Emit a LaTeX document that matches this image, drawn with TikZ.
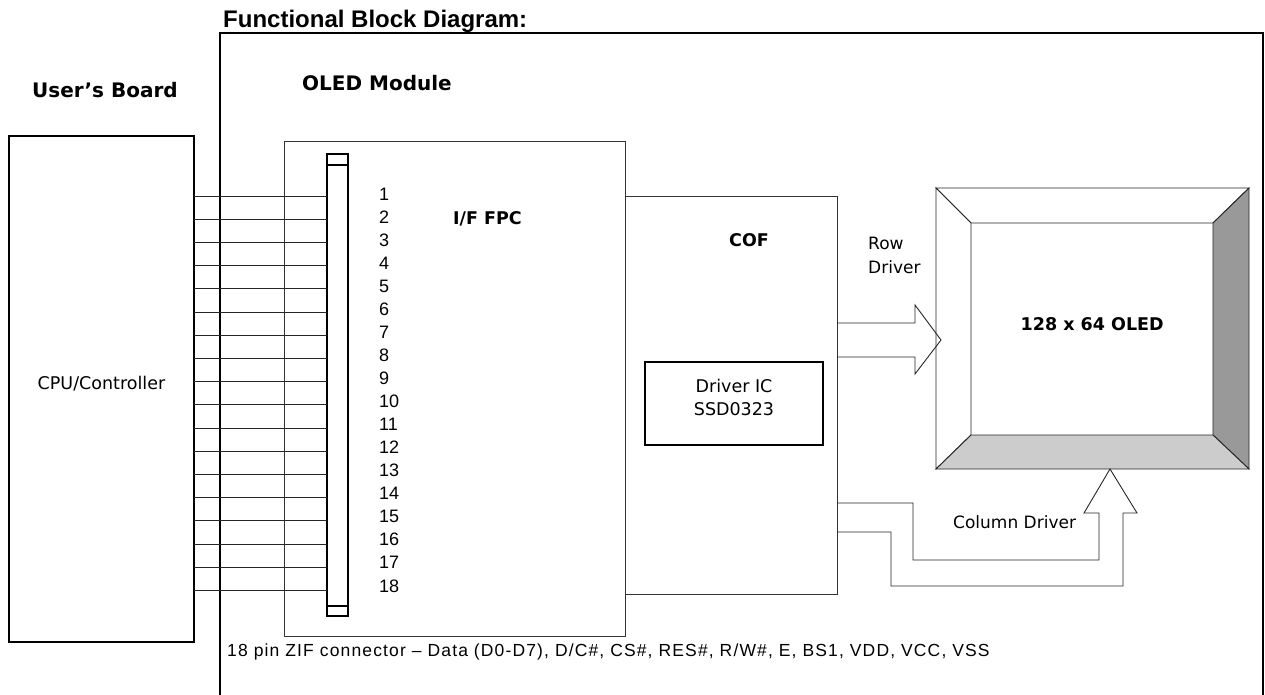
\documentclass[tikz,border=0pt]{standalone}
\usepackage{fontspec}
\setmainfont{Liberation Sans}
\newfontfamily\tahoma{DejaVu Sans}
\newfontfamily\notefont[LetterSpace=6.5]{Liberation Sans}
\usetikzlibrary{positioning,calc}

\begin{document}
\begin{tikzpicture}[
  x=1pt, y=-1pt,
  block/.style={
    draw=black!80,
    line width=0.9pt,
    inner sep=0pt,
    outer sep=0pt,
    anchor=north west
  },
  heavy block/.style={
    block,
    draw=black,
    line width=1.8pt
  },
  wire/.style={
    draw=black!85,
    line width=0.8pt
  },
  bus arrow/.style={
    draw=black!85,
    line width=0.9pt,
    line join=miter
  },
  bevel/.style={
    draw=black!85,
    line width=0.9pt
  },
  plain text/.style={
    inner sep=0pt,
    font=\tahoma\fontsize{17.5}{23}\selectfont
  },
  bold text/.style={
    inner sep=0pt,
    font=\tahoma\bfseries\fontsize{17.5}{23}\selectfont
  },
  pin number/.style={
    inner sep=0pt,
    anchor=base west,
    font=\fontsize{18}{18}\selectfont
  }
]
\useasboundingbox (0,0) rectangle (1265,694);

% headings
\node[inner sep=0pt,anchor=base west,font=\bfseries\fontsize{24}{24}\selectfont]
  (title) at (223,27) {Functional Block Diagram:};
\node[block,draw=black,line width=1.8pt,minimum width=1043pt,minimum height=720pt]
  (module) at (220,33) {};
\node[bold text,anchor=base west,font=\tahoma\bfseries\fontsize{20}{20}\selectfont]
  (board-label) at (32,97) {User’s Board};
\node[bold text,anchor=base west,font=\tahoma\bfseries\fontsize{20}{20}\selectfont]
  (module-label) at (302,90) {OLED Module};

% user's board
\node[heavy block,minimum width=185pt,minimum height=506pt] (cpu) at (9,136) {};
\node[plain text,anchor=base] (cpu-label) at (cpu.center) {CPU/Controller};

% flex cable and connector
\node[block,minimum width=341pt,minimum height=495pt] (fpc) at (284,141) {};
\node[block,minimum width=212pt,minimum height=398pt] (cof) at (625,196) {};
\node[block,draw=black,line width=1.4pt,minimum width=21pt,minimum height=462pt]
  (zif) at (327,154) {};
\draw[line width=1.6pt] ([yshift=-11pt]zif.north west) -- ([yshift=-11pt]zif.north east);
\draw[line width=1.4pt] ([yshift=10pt]zif.south west) -- ([yshift=10pt]zif.south east);

\foreach \i in {1,...,18}{
  \coordinate (pin\i) at (327,{196+(\i-1)*23.2});
  \draw[wire] (pin\i -| cpu.east) -- (pin\i);
  \node[pin number] (num\i) at (379,{200+(\i-1)*23.06}) {\i};
}

\node[bold text,anchor=base west] (fpc-label) at (453,224) {I/F FPC};
\node[bold text,anchor=base west] (cof-label) at (729,246) {COF};

% driver chip
\node[block,draw=black,line width=1.4pt,minimum width=178pt,minimum height=83pt]
  (ic) at (645,362) {};
\node[plain text,align=center] (ic-label) at ([yshift=6pt]ic.center) {Driver IC\\SSD0323};

% panel with bevel
\coordinate (oled-nw) at (936,188);
\coordinate (oled-se) at (1249,469);
\coordinate (screen-nw) at (971,223);
\coordinate (screen-se) at (1213,435);
\filldraw[bevel,fill=white] (oled-nw) -- (oled-nw -| oled-se) -- (screen-nw -| screen-se) -- (screen-nw) -- cycle;
\filldraw[bevel,fill=white] (oled-nw) -- (screen-nw) -- (screen-nw |- screen-se) -- (oled-nw |- oled-se) -- cycle;
\filldraw[bevel,fill=black!40] (oled-nw -| oled-se) -- (oled-se) -- (screen-se) -- (screen-nw -| screen-se) -- cycle;
\filldraw[bevel,fill=black!20] (oled-nw |- oled-se) -- (screen-nw |- screen-se) -- (screen-se) -- (oled-se) -- cycle;
\node[inner sep=0pt,minimum width=242pt,minimum height=212pt,anchor=north west]
  (screen) at (screen-nw) {};
\node[bold text,anchor=base] (screen-label) at ([yshift=-1pt]screen.center) {128 x 64 OLED};

% row driver bus
\node[plain text,align=left,anchor=north west,font=\tahoma\fontsize{17}{24}\selectfont]
  (row-label) at (868,237) {Row\\Driver};
\draw[bus arrow] (cof.east |- 0,323) -- (915,323) -- (915,305) -- (941,340)
  -- (915,374) -- (915,357) -- (cof.east |- 0,357);

% column driver bus
\draw[bus arrow] (cof.east |- 0,503) -- (913,503) -- (913,560) -- (1099,560)
  -- (1099,513) -- (1084,513) -- (1110,469) -- (1137,513) -- (1123,513)
  -- (1123,586) -- (891,586) -- (891,532) -- (cof.east |- 0,532);
\node[plain text,anchor=base west,font=\tahoma\fontsize{17}{17}\selectfont]
  (col-label) at (953,528) {Column Driver};

% connector note
\node[inner sep=0pt,anchor=base west,font=\notefont\fontsize{17.5}{17.5}\selectfont]
  (zif-note) at (227,656)
  {18 pin ZIF connector – Data (D0-D7), D/C\#, CS\#, RES\#, R/W\#, E, BS1, VDD, VCC, VSS};

\end{tikzpicture}
\end{document}
